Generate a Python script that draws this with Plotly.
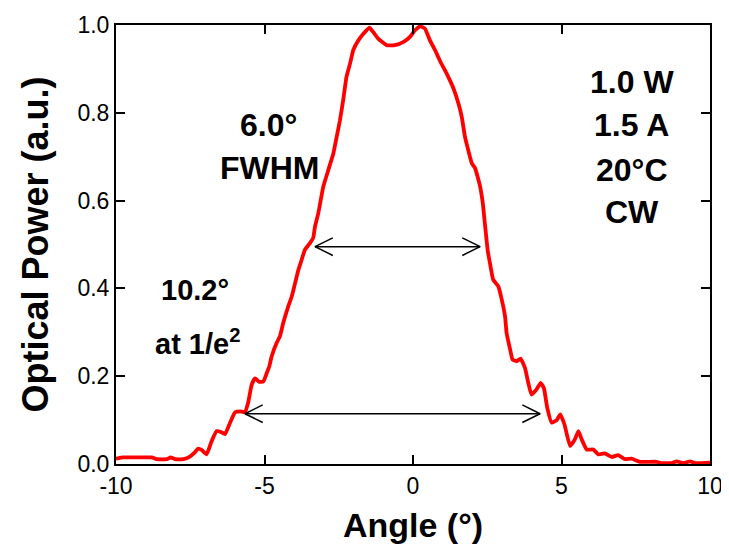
import plotly.graph_objects as go

# ---- data ----
angle = [-10.0, -9.75, -9.3, -8.80, -8.63, -8.29, -8.16, -8.01, -7.73, -7.51, -7.34, -7.23, -7.12,
         -6.95, -6.78, -6.61, -6.47, -6.33, -6.16, -5.99, -5.82, -5.66, -5.55, -5.43, -5.32, -5.17,
         -5.04, -4.93, -4.84, -4.76, -4.59, -4.48, -4.37, -4.20, -4.08, -3.97, -3.86, -3.75, -3.64,
         -3.47, -3.36, -3.30, -3.19, -3.11, -3.02, -2.85, -2.68, -2.57, -2.46, -2.35, -2.24, -2.12,
         -2.01, -1.84, -1.67, -1.47, -1.34, -1.17, -0.89, -0.61, -0.33, -0.10, 0.07, 0.24, 0.40,
         0.57, 0.74, 0.91, 1.13, 1.36, 1.53, 1.64, 1.75, 1.86, 1.98, 2.09, 2.26, 2.35, 2.43, 2.52,
         2.59, 2.70, 2.87, 2.99, 3.10, 3.15, 3.27, 3.35, 3.49, 3.62, 3.77, 3.88, 3.99, 4.16, 4.30,
         4.41, 4.52, 4.67, 4.84, 4.96, 5.10, 5.29, 5.45, 5.57, 5.68, 5.85, 6.07, 6.24, 6.46, 6.69,
         6.91, 7.14, 7.36, 7.64, 8.20, 8.37, 8.71, 8.88, 9.10, 9.33, 9.50, 10.0]
power = [0.012, 0.015, 0.015, 0.015, 0.011, 0.011, 0.015, 0.011, 0.011, 0.017, 0.027, 0.035, 0.032,
         0.022, 0.052, 0.075, 0.073, 0.068, 0.094, 0.118, 0.120, 0.118, 0.140, 0.181, 0.195, 0.187,
         0.188, 0.206, 0.222, 0.245, 0.276, 0.291, 0.321, 0.359, 0.382, 0.412, 0.442, 0.465, 0.488,
         0.503, 0.515, 0.541, 0.571, 0.600, 0.632, 0.670, 0.708, 0.745, 0.783, 0.829, 0.882, 0.912,
         0.943, 0.965, 0.980, 0.994, 0.984, 0.969, 0.954, 0.954, 0.961, 0.973, 0.988, 0.997, 0.992,
         0.965, 0.943, 0.918, 0.890, 0.856, 0.821, 0.791, 0.745, 0.715, 0.685, 0.674, 0.632, 0.594,
         0.541, 0.484, 0.458, 0.420, 0.405, 0.374, 0.336, 0.299, 0.261, 0.238, 0.234, 0.240, 0.219,
         0.185, 0.158, 0.170, 0.185, 0.172, 0.128, 0.094, 0.100, 0.113, 0.090, 0.041, 0.056, 0.075,
         0.056, 0.033, 0.033, 0.022, 0.024, 0.016, 0.020, 0.011, 0.012, 0.005, 0.005, 0.002, 0.002,
         0.006, 0.002, 0.006, 0.002, 0.003]

# width arrows: level, left end, right end
arrow_levels = [0.495, 0.1145]
arrow_left = [-3.30, -5.66]
arrow_right = [2.26, 4.28]

x_ticks = [-10, -5, 0, 5, 10]
x_ticklabels = ["-10", "-5", "0", "5", "10"]
y_ticks = [0.0, 0.2, 0.4, 0.6, 0.8, 1.0]
y_ticklabels = ["0.0", "0.2", "0.4", "0.6", "0.8", "1.0"]

label_texts = ["6.0°", "FWHM", "1.0 W", "1.5 A", "20°C", "CW", "10.2°", "at 1/e<sup>2</sup>"]

# ---- figure ----
FONT = "Liberation Sans, Arial, Helvetica, sans-serif"
fig = go.Figure()

fig.add_trace(go.Scatter(x=angle, y=power, mode="lines",
                         line=dict(color="#ff0000", width=3.8, shape="spline", smoothing=0.4),
                         showlegend=False, hoverinfo="skip"))

HEAD_DX = 0.6
HEAD_DY = 0.02
for lvl, xl, xr in zip(arrow_levels, arrow_left, arrow_right):
    fig.add_trace(go.Scatter(x=[xl, xr], y=[lvl, lvl], mode="lines",
                             line=dict(color="black", width=1.5), showlegend=False, hoverinfo="skip"))
    fig.add_trace(go.Scatter(x=[xl + HEAD_DX, xl, xl + HEAD_DX], y=[lvl + HEAD_DY, lvl, lvl - HEAD_DY],
                             mode="lines", line=dict(color="black", width=1.5),
                             showlegend=False, hoverinfo="skip"))
    fig.add_trace(go.Scatter(x=[xr - HEAD_DX, xr, xr - HEAD_DX], y=[lvl + HEAD_DY, lvl, lvl - HEAD_DY],
                             mode="lines", line=dict(color="black", width=1.5),
                             showlegend=False, hoverinfo="skip"))

label_pos = [(-4.88, 0.772), (-4.81, 0.674), (7.37, 0.870), (7.37, 0.772), (7.37, 0.670),
             (7.37, 0.574), (-7.34, 0.397), (-7.24, 0.279)]
label_size = [32, 32, 32, 32, 32, 32, 29, 29]
for txt, (lx, ly), fs in zip(label_texts, label_pos, label_size):
    fig.add_annotation(x=lx, y=ly, text=f"<b>{txt}</b>", showarrow=False,
                       font=dict(family=FONT, size=fs, color="black"),
                       xanchor="center", yanchor="middle")

axis_common = dict(showline=True, linecolor="black", linewidth=2, mirror="ticks",
                   ticks="inside", ticklen=9, tickwidth=2, tickcolor="black",
                   showgrid=False, zeroline=False, automargin=False,
                   tickfont=dict(family=FONT, size=23, color="black"))

fig.update_xaxes(range=[-10, 10], tickvals=x_ticks, ticktext=x_ticklabels,
                 title=dict(text="<b>Angle (°)</b>", font=dict(family=FONT, size=34, color="black"),
                            standoff=16),
                 **axis_common)
fig.update_yaxes(range=[0, 1.0], tickvals=y_ticks, ticktext=y_ticklabels, ticklabelstandoff=0,
                 title=dict(text="<b>Optical Power (a.u.)</b>",
                            font=dict(family=FONT, size=36, color="black"), standoff=18),
                 **axis_common)

# the page body adds an 8px margin; size the figure so the plot area lands where the reference has it
fig.update_layout(width=721, height=547, paper_bgcolor="white", plot_bgcolor="white",
                  margin=dict(l=108, r=19, t=17, b=91), showlegend=False)

fig.write_html("out.html")
